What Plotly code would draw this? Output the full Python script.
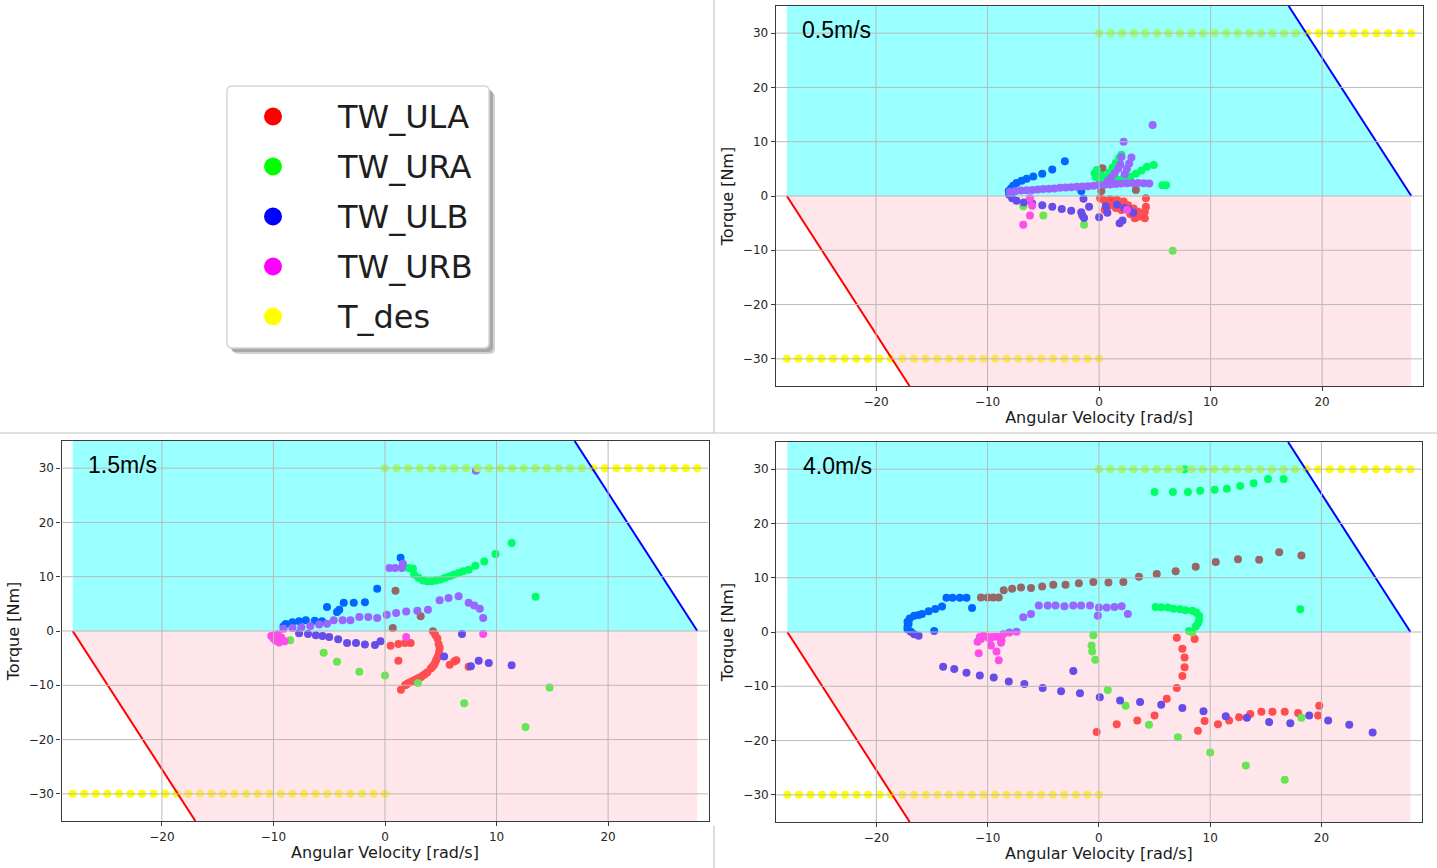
import plotly.graph_objects as go

# ---------------- data ----------------
SERIES = ["TW_ULA", "TW_URA", "TW_ULB", "TW_URB", "T_des"]
COLORS = ["#ff0000", "#00ff00", "#0000ff", "#ff00ff", "#ffff00"]
SPEED_LABELS = ["0.5m/s", "1.5m/s", "4.0m/s"]

X_TICKS = [-20, -10, 0, 10, 20]
Y_TICKS = [-30, -20, -10, 0, 10, 20, 30]
X_RANGE = [-29, 29]
Y_RANGE = [-35, 35]

# operating region (torque-speed envelope)
CYAN_W = [-28, -28, 17, 28]
CYAN_T = [0, 35, 35, 0]
PINK_W = [-28, -17, 28, 28]
PINK_T = [0, -35, -35, 0]
BLUE_LINE_W = [28, 17]
BLUE_LINE_T = [0, 35]
RED_LINE_W = [-28, -17]
RED_LINE_T = [0, -35]

# desired torque
TDES_POS_W = [0.0, 1.04, 2.07, 3.11, 4.15, 5.19, 6.22, 7.26, 8.3, 9.33, 10.37, 11.41, 12.44, 13.48,
              14.52, 15.56, 16.59, 17.63, 18.67, 19.7, 20.74, 21.78, 22.81, 23.85, 24.89, 25.93, 26.96, 28.0]
TDES_POS_T = [30, 30, 30, 30, 30, 30, 30, 30, 30, 30, 30, 30, 30, 30,
              30, 30, 30, 30, 30, 30, 30, 30, 30, 30, 30, 30, 30, 30]
TDES_NEG_W = [-28.0, -26.96, -25.93, -24.89, -23.85, -22.81, -21.78, -20.74, -19.7, -18.67, -17.63, -16.59,
              -15.56, -14.52, -13.48, -12.44, -11.41, -10.37, -9.33, -8.3, -7.26, -6.22, -5.19, -4.15,
              -3.11, -2.07, -1.04, 0.0]
TDES_NEG_T = [-30, -30, -30, -30, -30, -30, -30, -30, -30, -30, -30, -30, -30, -30,
              -30, -30, -30, -30, -30, -30, -30, -30, -30, -30, -30, -30, -30, -30]

# ---- 0.5 m/s ----
ULA_05_W = [0.3, 0.2, 3.3, 0.1, 0.4, 1.0, 1.6, 2.2, 2.6, 3.1, 3.5, 3.8, 4.1, 4.2, 4.2, 4.1, 3.2, 0.5,
            0.7, 1.3, 1.9, 2.5, 0.6, 0.9, 1.5, 2.0, 2.8, 3.5]
ULA_05_T = [5.1, 0.9, 1.1, -0.4, -0.7, -0.6, -0.7, -1.0, -1.7, -2.3, -2.9, -3.5, -4.1, -0.4, -2.0, -2.9,
            -4.1, -2.6, -1.5, -1.0, -1.5, -1.9, -1.2, -1.8, -2.2, -2.6, -3.3, -3.8]
URA_05_W = [-0.4, -0.3, -0.2, 0.0, 0.2, 0.6, 0.9, 1.2, 1.5, 1.8, 2.0, 1.6, 2.2, 2.8, 3.3, 3.8, 4.3, 4.9,
            5.7, 6.0, -6.8, -5.0, -1.35, 6.6]
URA_05_T = [4.2, 3.5, 4.8, 3.1, 3.8, 3.3, 4.3, 5.2, 6.1, 7.0, 7.6, 3.0, 3.3, 3.6, 4.1, 4.7, 5.4, 5.7,
            2.0, 2.0, -1.9, -3.6, -5.3, -10.1]
ULB_05_W = [-3.07, -4.2, -5.1, -5.9, -6.5, -6.95, -7.4, -7.7, -7.9, -8.1, -8.06, -1.6,
            -7.8, -7.4, -6.75, -6.0, -5.1, -4.2, -3.35, -2.5, -1.6, -0.9, -1.4, -1.35, 0.0, 0.6, 0.74,
            1.6, 2.25, 2.66, 3.07, 1.84, 2.1, -1.5]
ULB_05_T = [6.4, 4.9, 4.1, 3.6, 3.2, 2.8, 2.4, 1.9, 1.4, 0.9, 0.25, 0.9,
            -0.4, -0.86, -1.2, -1.4, -1.7, -2.0, -2.4, -2.7, -3.0, -2.0, -0.5, -4.05, -3.9, -1.9, -3.1,
            -1.6, -2.2, -2.5, -3.1, -5.0, -4.5, -3.6]
URB_05_W = [-8.0, -7.5, -7.0, -6.5, -6.0, -5.5, -5.0, -4.5, -4.0, -3.5, -3.0, -2.5, -2.0, -1.5, -1.0,
            -0.5, 0.0, 0.5, 1.0, 1.5, 2.0, 2.5, 3.0, 3.5, 4.0, 4.5,
            0.8, 1.1, 1.4, 1.7, 1.9, 2.0, 2.9, 2.7, 2.5, 2.3, 2.2, 4.8,
            -6.2, -6.0, -6.2, -6.8, 2.5]
URB_05_T = [0.8, 0.9, 1.0, 1.05, 1.1, 1.2, 1.3, 1.35, 1.4, 1.5, 1.55, 1.6, 1.7, 1.75, 1.8,
            1.9, 2.0, 2.05, 2.1, 2.2, 2.3, 2.35, 2.4, 2.4, 2.35, 2.3,
            2.8, 3.4, 4.2, 5.0, 5.8, 7.2, 7.1, 6.0, 5.0, 4.0, 10.0, 13.1,
            -0.4, -1.8, -3.6, -5.3, -2.6]

# ---- 1.5 m/s ----
ULA_15_W = [4.3, 4.5, 4.7, 4.8, 4.9, 4.85, 4.8, 4.7, 4.6, 4.5, 4.4, 4.25, 4.1, 3.8, 3.6, 3.4, 3.2,
            2.95, 2.7, 2.5, 2.3, 2.1, 1.95, 1.8, 1.43,
            0.5, 1.2, 1.8, 2.3, 1.2, 5.8, 6.2, 6.4, 7.5, 0.94, 3.2, 0.7]
ULA_15_T = [-0.06, -0.7, -1.4, -2.4, -3.1, -3.8, -4.4, -4.9, -5.3, -5.8, -6.2, -6.6, -6.9, -7.6, -7.9,
            -8.2, -8.5, -8.7, -9.0, -9.2, -9.4, -9.6, -9.8, -10.0, -10.8,
            -2.7, -2.4, -2.2, -2.2, -5.5, -6.2, -5.6, -5.4, -6.6, 7.4, 2.7, 0.55]
URA_15_W = [2.1, 2.5, 2.6, 3.0, 3.4, 3.8, 4.2, 4.6, 5.0, 5.4, 5.8, 6.2, 6.6, 7.0, 7.5, 8.1, 8.9, 9.9,
            11.35, 13.5, -8.5, -5.5, -4.3, -2.3, 0.0, 2.95, 7.1, 12.6, 14.75]
URA_15_T = [11.6, 11.5, 10.4, 9.8, 9.3, 9.15, 9.15, 9.3, 9.5, 9.8, 10.1, 10.4, 10.7, 11.0, 11.3, 12.0,
            12.8, 14.2, 16.2, 6.3, -1.7, -4.0, -5.65, -7.5, -8.2, -9.6, -13.3, -17.7, -10.4]
ULB_15_W = [-9.1, -8.9, -8.3, -7.7, -7.1, -6.3, -5.65, -5.2, -4.3, -4.1, -3.7, -2.8, -1.8, -0.7, 1.4,
            -7.7, -6.9, -6.2, -5.6, -5.0, -4.2, -3.4, -2.6, -1.8, -0.9, -0.4, 5.3, 6.9, 7.7, 8.4, 9.3, 11.35]
ULB_15_T = [0.86, 1.3, 1.6, 1.8, 1.97, 1.9, 1.8, 4.4, 3.5, 3.9, 5.2, 5.2, 5.3, 7.8, 13.5,
            -0.4, -0.55, -0.8, -0.9, -1.1, -1.5, -2.2, -2.2, -2.5, -2.6, -1.9, -4.7, -0.55, -6.5, -5.5,
            -5.9, -6.3]
URB_15_W = [8.15, 0.4, 0.9, 1.5, 1.6,
            -9.1, -8.3, -7.5, -6.7, -5.9, -5.2, -4.6, -3.8, -3.1, -2.3, -1.5, -0.7, 0.16, 1.0, 1.9, 2.9,
            3.85, 4.9, 5.7, 6.6, 7.5, 8.0, 8.5, 8.8,
            -10.2, -10.0, -9.8, -9.5, -9.3, -9.6, -9.9, -9.4, -9.0, 1.9, 8.8]
URB_15_T = [29.5, 11.6, 11.6, 11.6, 12.4,
            0.4, 0.55, 0.7, 0.9, 1.2, 1.35, 2.0, 2.0, 2.0, 2.6, 2.6, 2.4, 3.0, 3.3, 3.6, 3.75,
            3.9, 5.65, 6.1, 6.4, 5.2, 4.7, 4.1, 2.4,
            -0.9, -1.4, -1.8, -2.1, -1.2, -0.6, -0.8, -1.7, -1.9, -1.1, -0.55]

# ---- 4.0 m/s ----
ULA_40_W = [-10.6, -10.0, -9.5, -9.0, -8.55, -7.8, -7.0, -6.1, -5.1, -4.1, -3.0, -1.8, -0.5, 0.86, 2.2,
            3.6, 5.2, 6.9, 8.7, 10.5, 12.5, 14.4, 16.2, 18.2,
            7.0, 7.5, 7.7, 7.7, 7.5, 7.0, 6.1, 8.6, 5.0, 3.45, 1.6, -0.2, 8.9, 9.5, 10.7, 11.7, 12.6,
            13.6, 14.6, 15.6, 16.7, 17.9, 19.7, 19.8]
ULA_40_T = [6.35, 6.35, 6.35, 6.35, 7.7, 7.95, 8.2, 8.1, 8.4, 8.7, 8.7, 9.0, 9.2, 9.1, 9.2,
            10.2, 10.7, 11.2, 12.0, 12.9, 13.4, 13.3, 14.7, 14.1,
            -1.05, -3.1, -4.7, -6.5, -8.1, -10.3, -12.3, -1.3, -15.4, -16.3, -17.0, -18.4, -18.2, -16.4,
            -17.0, -16.3, -15.7, -15.1, -14.7, -14.7, -14.7, -14.9, -15.4, -13.6]
URA_40_W = [5.0, 6.65, 8.0, 9.1, 10.4, 11.5, 12.7, 13.9, 15.2, 16.6, 7.7, 18.1,
            5.1, 5.6, 6.2, 6.7, 7.3, 7.8, 8.4, 8.75, 9.0, 9.0, 8.9, 8.7, 8.1,
            8.4, -0.5, -0.66, -0.6, -0.33, 0.8, 2.4, 4.5, 7.1, 10.0, 13.2, 16.7, 18.2]
URA_40_T = [25.8, 25.8, 25.8, 26.0, 26.2, 26.4, 26.9, 27.4, 28.2, 28.2, 30.0, 4.2,
            4.6, 4.55, 4.5, 4.3, 4.2, 4.0, 3.9, 3.6, 3.0, 2.2, 1.6, 1.0, 0.2,
            -0.1, -0.6, -2.5, -3.6, -5.1, -10.7, -13.6, -17.1, -19.4, -22.2, -24.6, -27.2, -15.8]
ULB_40_W = [-16.9, -17.2, -17.2, -17.1, -17.2, -17.0, -16.6, -16.2, -15.9, -15.3, -14.7, -14.1, -13.7,
            -13.15, -12.5, -11.9, -11.4, -14.8,
            -16.6, -16.2, -14.0, -13.0, -11.9, -10.7, -9.45, -8.1, -6.7, -5.05, -3.4, -1.7, 0.08, 1.9,
            3.7, 5.6, 7.5, 9.4, 11.4, 13.3, 15.3, 17.2, 18.9, 20.6, 22.5, 24.6, -2.3]
ULB_40_T = [0.06, 0.5, 1.0, 1.5, 1.9, 2.5, 3.0, 3.15, 3.3, 3.8, 4.25, 4.7, 6.3,
            6.3, 6.3, 6.3, 4.4, 0.2,
            -0.4, -0.7, -6.4, -6.8, -7.5, -8.0, -8.4, -9.1, -9.6, -10.3, -10.9, -11.3, -12.0, -12.6,
            -12.9, -13.4, -14.0, -14.6, -15.5, -15.8, -16.6, -16.8, -15.4, -16.3, -17.1, -18.5, -7.2]
URB_40_W = [-6.8, -6.1, -5.4, -4.6, -3.9, -3.1, -2.3, -1.6, -0.8, 0.0, 0.7, 1.4, 2.05, 2.6, -0.1,
            -7.4, -8.05, -8.6, -9.2, -9.6, -10.0, -10.4, -10.7, -10.9, -10.6, -9.8, -8.75, -8.8,
            -10.8, -9.7, -9.2, -9.0]
URB_40_T = [2.7, 3.3, 4.9, 4.9, 4.9, 4.75, 4.9, 4.9, 4.9, 4.5, 4.5, 4.6, 4.75, 3.3, 3.0,
            0.06, -0.1, -0.4, -0.86, -0.9, -0.9, -0.7, -0.9, -1.8, -1.3, -1.3, -1.5, -2.0,
            -3.9, -2.5, -3.6, -5.2]

PANELS = [
    [(ULA_05_W, ULA_05_T), (URA_05_W, URA_05_T), (ULB_05_W, ULB_05_T), (URB_05_W, URB_05_T)],
    [(ULA_15_W, ULA_15_T), (URA_15_W, URA_15_T), (ULB_15_W, ULB_15_T), (URB_15_W, URB_15_T)],
    [(ULA_40_W, ULA_40_T), (URA_40_W, URA_40_T), (ULB_40_W, ULB_40_T), (URB_40_W, URB_40_T)],
]

# ---------------- layout geometry (pixels) ----------------
FIG_W, FIG_H = 1437, 868
# (left, right, top, bottom) of each plot area in pixels
PANEL_BOX = [(775.7, 1422.5, 6, 386), (61.5, 708.5, 441, 821), (776.2, 1421.6, 442, 822)]


def px_dom_x(a, b):
    return [a / FIG_W, b / FIG_W]


def px_dom_y(top, bottom):
    return [1 - bottom / FIG_H, 1 - top / FIG_H]


TICK_FONT = dict(family="DejaVu Sans", size=12, color="#262626")
TITLE_FONT = dict(family="DejaVu Sans", size=16, color="#1a1a1a")
AX_COL = "#3a3a3a"
GRID_COL = "#b9b9b9"

fig = go.Figure()
shapes = []
annotations = []
layout_axes = {}

for p, series in enumerate(PANELS):
    sx = "" if p == 0 else str(p + 1)
    xa, ya = "x" + sx, "y" + sx
    # data series
    for (w, t), name, col in zip(series, SERIES[:4], COLORS[:4]):
        fig.add_trace(go.Scatter(x=w, y=t, mode="markers", name=name, showlegend=False,
                                 marker=dict(color=col, size=8, line=dict(width=0)),
                                 xaxis=xa, yaxis=ya, hoverinfo="skip"))
    for w, t in ((TDES_POS_W, TDES_POS_T), (TDES_NEG_W, TDES_NEG_T)):
        fig.add_trace(go.Scatter(x=w, y=t, mode="markers", name=SERIES[4], showlegend=False,
                                 marker=dict(color=COLORS[4], size=8, line=dict(width=0)),
                                 xaxis=xa, yaxis=ya, hoverinfo="skip"))
    # translucent envelope regions (drawn over the points)
    fig.add_trace(go.Scatter(x=CYAN_W, y=CYAN_T, mode="lines", fill="toself",
                             fillcolor="rgba(0,255,255,0.4)", line=dict(width=0),
                             showlegend=False, xaxis=xa, yaxis=ya, hoverinfo="skip"))
    fig.add_trace(go.Scatter(x=PINK_W, y=PINK_T, mode="lines", fill="toself",
                             fillcolor="rgba(255,192,203,0.4)", line=dict(width=0),
                             showlegend=False, xaxis=xa, yaxis=ya, hoverinfo="skip"))
    fig.add_trace(go.Scatter(x=RED_LINE_W, y=RED_LINE_T, mode="lines", line=dict(color="#ff0000", width=2),
                             showlegend=False, xaxis=xa, yaxis=ya, hoverinfo="skip"))
    fig.add_trace(go.Scatter(x=BLUE_LINE_W, y=BLUE_LINE_T, mode="lines", line=dict(color="#0000ff", width=2),
                             showlegend=False, xaxis=xa, yaxis=ya, hoverinfo="skip"))
    # grid drawn above the translucent regions
    for v in X_TICKS:
        shapes.append(dict(type="line", xref=xa, yref=ya, x0=v, x1=v, y0=Y_RANGE[0], y1=Y_RANGE[1],
                           line=dict(color=GRID_COL, width=1), layer="above"))
    for v in Y_TICKS:
        shapes.append(dict(type="line", xref=xa, yref=ya, x0=X_RANGE[0], x1=X_RANGE[1], y0=v, y1=v,
                           line=dict(color=GRID_COL, width=1), layer="above"))
    annotations.append(dict(text=SPEED_LABELS[p], xref=xa, yref=ya, x=-26.8, y=30.6,
                            xanchor="left", yanchor="middle", showarrow=False,
                            font=dict(family="Liberation Sans", size=23, color="#000000")))
    l, r, t, b = PANEL_BOX[p]
    layout_axes["xaxis" + sx] = dict(domain=px_dom_x(l, r), range=X_RANGE, anchor=ya,
                                     tickvals=X_TICKS, ticktext=[f"{v}".replace("-", "\u2212") for v in X_TICKS],
                                     showgrid=False, zeroline=False, showline=True, mirror=True,
                                     linecolor=AX_COL, linewidth=1.2, ticks="outside", ticklen=4,
                                     tickcolor=AX_COL, tickfont=TICK_FONT,
                                     title=dict(text="Angular Velocity [rad/s]", font=TITLE_FONT, standoff=2))
    layout_axes["yaxis" + sx] = dict(domain=px_dom_y(t, b), range=Y_RANGE, anchor=xa,
                                     tickvals=Y_TICKS, ticktext=[f"{v}".replace("-", "\u2212") for v in Y_TICKS],
                                     showgrid=False, zeroline=False, showline=True, mirror=True,
                                     linecolor=AX_COL, linewidth=1.2, ticks="outside", ticklen=4,
                                     tickcolor=AX_COL, tickfont=TICK_FONT,
                                     title=dict(text="Torque [Nm]", font=TITLE_FONT, standoff=5))

# ---------------- legend panel (top-left), pixel-unit axes ----------------
LEG_MARK_X = 273
LEG_TEXT_X = 335
LEG_Y = [116.5, 166.5, 216.5, 266.5, 316.5]
layout_axes["xaxis4"] = dict(domain=px_dom_x(0, 714), range=[0, 714], visible=False, anchor="y4")
layout_axes["yaxis4"] = dict(domain=px_dom_y(0, 433), range=[433, 0], visible=False, anchor="x4")


def rrect(x0, y0, x1, y1, r):
    return (f"M {x0+r},{y0} L {x1-r},{y0} Q {x1},{y0} {x1},{y0+r} L {x1},{y1-r} Q {x1},{y1} {x1-r},{y1} "
            f"L {x0+r},{y1} Q {x0},{y1} {x0},{y1-r} L {x0},{y0+r} Q {x0},{y0} {x0+r},{y0} Z")


shapes.append(dict(type="path", xref="x4", yref="y4", path=rrect(233, 92, 495, 354, 5),
                   fillcolor="#d2d2d2", line=dict(width=0), layer="below"))
shapes.append(dict(type="path", xref="x4", yref="y4", path=rrect(231, 90, 493, 352, 5),
                   fillcolor="#a8a8a8", line=dict(width=0), layer="below"))
shapes.append(dict(type="path", xref="x4", yref="y4", path=rrect(227, 86, 489, 348, 5),
                   fillcolor="#ffffff", line=dict(color="#d6d6d6", width=1.5), layer="below"))
fig.add_trace(go.Scatter(x=[LEG_MARK_X] * len(SERIES), y=LEG_Y, mode="markers", showlegend=False,
                         marker=dict(color=COLORS, size=18, line=dict(width=0)),
                         xaxis="x4", yaxis="y4", hoverinfo="skip"))
for name, yy in zip(SERIES, LEG_Y):
    annotations.append(dict(text=name, xref="x4", yref="y4", x=LEG_TEXT_X, y=yy, xanchor="left",
                            yanchor="middle", showarrow=False,
                            font=dict(family="DejaVu Sans", size=32, color="#1e1e1e")))

# ---------------- panel separators ----------------
SEP_COL = "#c4c4c4"
shapes.append(dict(type="line", xref="paper", yref="paper", x0=0, x1=1, y0=1 - 433 / FIG_H, y1=1 - 433 / FIG_H,
                   line=dict(color=SEP_COL, width=1.2), layer="above"))
shapes.append(dict(type="line", xref="paper", yref="paper", x0=714 / FIG_W, x1=714 / FIG_W,
                   y0=1 - 433 / FIG_H, y1=1, line=dict(color=SEP_COL, width=1.2), layer="above"))
shapes.append(dict(type="line", xref="paper", yref="paper", x0=714 / FIG_W, x1=714 / FIG_W,
                   y0=0, y1=1 - 826 / FIG_H, line=dict(color=SEP_COL, width=1.2), layer="above"))

fig.update_layout(width=FIG_W, height=FIG_H, margin=dict(l=0, r=0, t=0, b=0),
                  paper_bgcolor="white", plot_bgcolor="white", showlegend=False,
                  shapes=shapes, annotations=annotations, **layout_axes)

fig.write_html("out.html")
